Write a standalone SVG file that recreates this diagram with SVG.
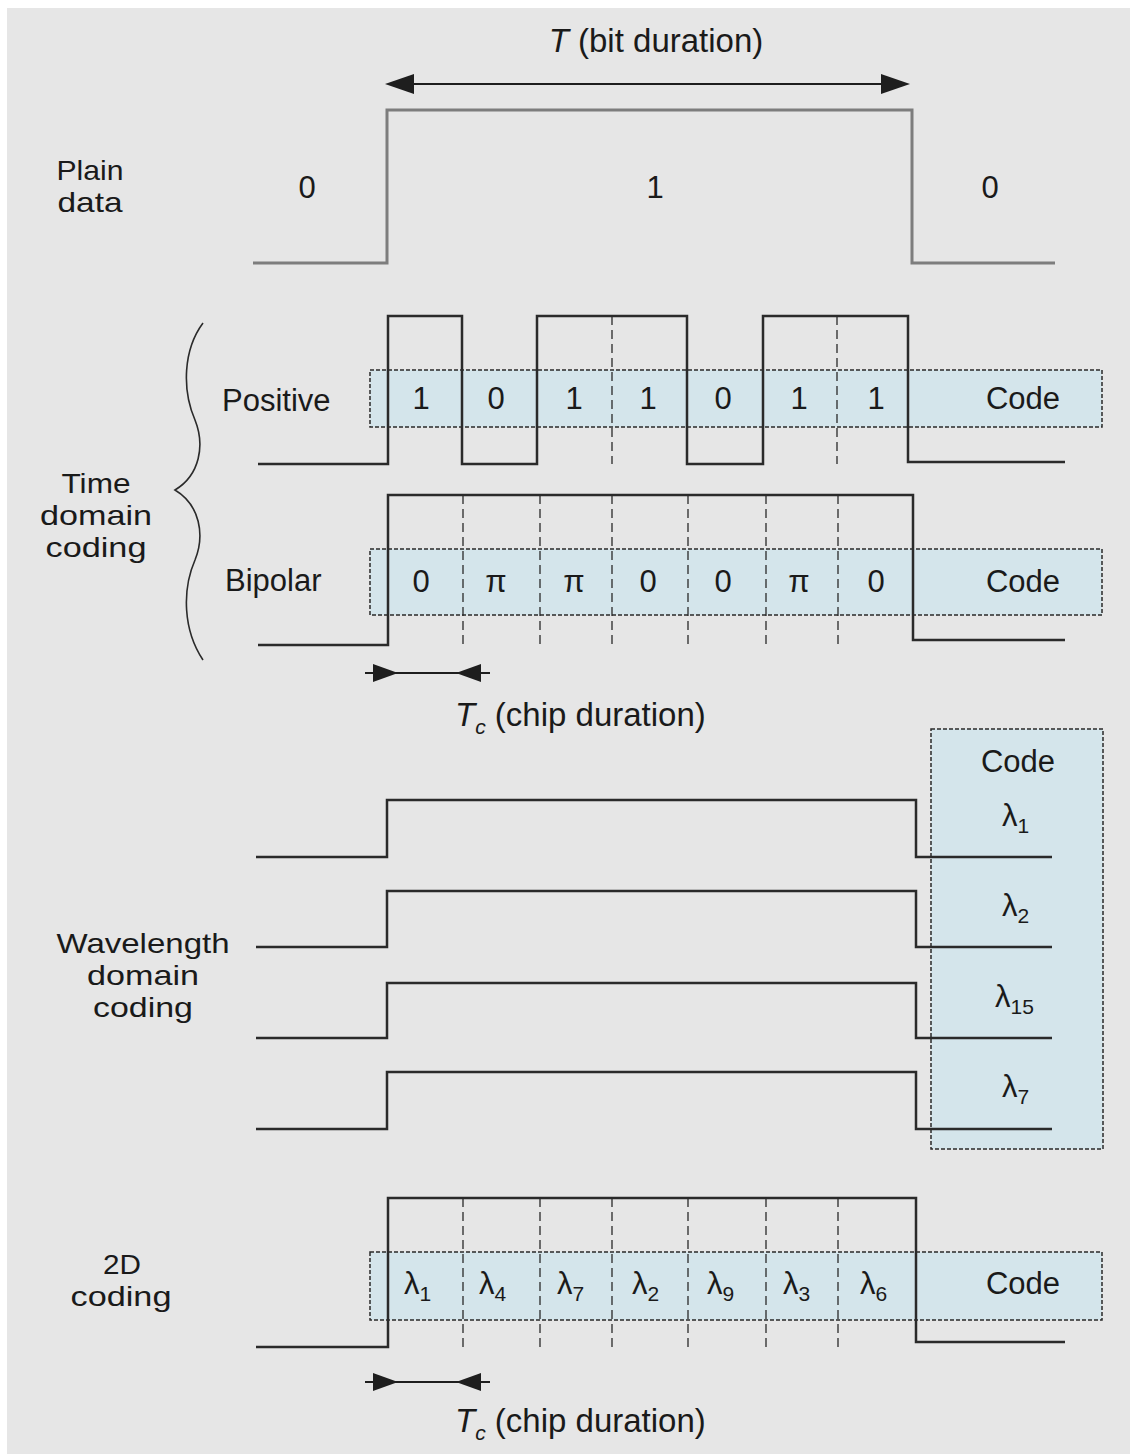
<svg xmlns="http://www.w3.org/2000/svg" width="1130" height="1454" viewBox="0 0 1130 1454">
<style>
  text { font-family: "Liberation Sans", Arial, sans-serif; font-size: 31px; fill: #1a1a1a; }
  .mid { text-anchor: middle; }
  .lbl { font-size: 28px; }
  .big { font-size: 33px; }
  .sub { font-size: 21px; }
  .wave { fill: none; stroke: #2a2a2a; stroke-width: 2.5; }
  .plain { fill: none; stroke: #7d7d7d; stroke-width: 3; }
  .chip { stroke: #2a2a2a; stroke-width: 1.3; stroke-dasharray: 9 5; }
  .codebox { fill: #d4e5eb; stroke: #2a2a2a; stroke-width: 1.5; stroke-dasharray: 4 2; }
  .dim { stroke: #1e1e1e; stroke-width: 2; }
  .head { fill: #1e1e1e; }
</style>
<rect x="0" y="0" width="1130" height="1454" fill="#ffffff"/>
<rect x="7" y="8" width="1123" height="1446" fill="#e6e6e6"/>

<!-- code boxes (drawn beneath waveforms) -->
<g id="positive-codebox"><rect class="codebox" x="370" y="370" width="732" height="57"/></g>
<g id="bipolar-codebox"><rect class="codebox" x="370" y="549" width="732" height="66"/></g>
<g id="wavelength-codebox"><rect class="codebox" x="931" y="729" width="172" height="420"/></g>
<g id="twod-codebox"><rect class="codebox" x="370" y="1252" width="732" height="68"/></g>

<!-- plain data -->
<g id="plain-data">
  <text class="mid lbl" x="90" y="180" textLength="67" lengthAdjust="spacingAndGlyphs">Plain</text>
  <text class="mid lbl" x="90" y="212" textLength="65" lengthAdjust="spacingAndGlyphs">data</text>
  <polyline class="plain" points="253,263 387,263 387,110 912,110 912,263 1055,263"/>
  <text class="mid" x="307" y="198">0</text>
  <text class="mid" x="655" y="198">1</text>
  <text class="mid" x="990" y="198">0</text>
  <text class="mid big" x="656" y="52"><tspan font-style="italic">T</tspan> (bit duration)</text>
</g>

<!-- time domain coding label and brace -->
<g id="time-domain">
  <path d="M203,323 C183,350 182,390 195,420 C205,445 200,475 175,490 C200,505 205,535 195,560 C182,590 183,630 203,660" fill="none" stroke="#2a2a2a" stroke-width="1.6"/>
  <text class="mid lbl" x="96" y="493" textLength="69" lengthAdjust="spacingAndGlyphs">Time</text>
  <text class="mid lbl" x="96" y="525" textLength="112" lengthAdjust="spacingAndGlyphs">domain</text>
  <text class="mid lbl" x="96" y="557" textLength="101" lengthAdjust="spacingAndGlyphs">coding</text>
</g>

<!-- positive -->
<g id="positive">
  <text x="222" y="411">Positive</text>
  <line class="chip" x1="612" y1="316" x2="612" y2="464"/>
  <line class="chip" x1="837" y1="316" x2="837" y2="464"/>
  <polyline class="wave" points="258,464 388,464 388,316 462,316 462,464 537,464 537,316 687,316 687,464 763,464 763,316 908,316 908,462 1065,462"/>
  <text class="mid" x="421" y="409">1</text>
  <text class="mid" x="496" y="409">0</text>
  <text class="mid" x="574" y="409">1</text>
  <text class="mid" x="648" y="409">1</text>
  <text class="mid" x="723" y="409">0</text>
  <text class="mid" x="799" y="409">1</text>
  <text class="mid" x="876" y="409">1</text>
  <text class="mid" x="1023" y="409">Code</text>
</g>

<!-- bipolar -->
<g id="bipolar">
  <text x="225" y="591">Bipolar</text>
  <line class="chip" x1="463" y1="495" x2="463" y2="647"/>
  <line class="chip" x1="540" y1="495" x2="540" y2="647"/>
  <line class="chip" x1="612" y1="495" x2="612" y2="647"/>
  <line class="chip" x1="688" y1="495" x2="688" y2="647"/>
  <line class="chip" x1="766" y1="495" x2="766" y2="647"/>
  <line class="chip" x1="838" y1="495" x2="838" y2="647"/>
  <polyline class="wave" points="258,645 388,645 388,495 913,495 913,640 1065,640"/>
  <text class="mid" x="421" y="592">0</text>
  <text class="mid" x="496" y="592">π</text>
  <text class="mid" x="574" y="592">π</text>
  <text class="mid" x="648" y="592">0</text>
  <text class="mid" x="723" y="592">0</text>
  <text class="mid" x="799" y="592">π</text>
  <text class="mid" x="876" y="592">0</text>
  <text class="mid" x="1023" y="592">Code</text>
  <text class="big" x="455" y="726"><tspan font-style="italic">T</tspan><tspan class="sub" font-style="italic" dy="8">c</tspan><tspan dy="-8"> (chip duration)</tspan></text>
</g>

<!-- wavelength domain coding -->
<g id="wavelength">
  <text class="mid lbl" x="143" y="953" textLength="173" lengthAdjust="spacingAndGlyphs">Wavelength</text>
  <text class="mid lbl" x="143" y="985" textLength="112" lengthAdjust="spacingAndGlyphs">domain</text>
  <text class="mid lbl" x="143" y="1017" textLength="100" lengthAdjust="spacingAndGlyphs">coding</text>
  <polyline class="wave" points="256,857 387,857 387,800 916,800 916,857 1052,857"/>
  <polyline class="wave" points="256,947 387,947 387,891 916,891 916,947 1052,947"/>
  <polyline class="wave" points="256,1038 387,1038 387,983 916,983 916,1038 1052,1038"/>
  <polyline class="wave" points="256,1129 387,1129 387,1072 916,1072 916,1129 1052,1129"/>
  <text class="mid" x="1018" y="772">Code</text>
  <text x="1002" y="826">λ<tspan class="sub" dy="7">1</tspan></text>
  <text x="1002" y="916">λ<tspan class="sub" dy="7">2</tspan></text>
  <text x="995" y="1007">λ<tspan class="sub" dy="7">15</tspan></text>
  <text x="1002" y="1097">λ<tspan class="sub" dy="7">7</tspan></text>
</g>

<!-- 2D coding -->
<g id="twod">
  <text class="mid lbl" x="122" y="1274" textLength="38" lengthAdjust="spacingAndGlyphs">2D</text>
  <text class="mid lbl" x="121" y="1306" textLength="101" lengthAdjust="spacingAndGlyphs">coding</text>
  <line class="chip" x1="463" y1="1198" x2="463" y2="1347"/>
  <line class="chip" x1="540" y1="1198" x2="540" y2="1347"/>
  <line class="chip" x1="612" y1="1198" x2="612" y2="1347"/>
  <line class="chip" x1="688" y1="1198" x2="688" y2="1347"/>
  <line class="chip" x1="766" y1="1198" x2="766" y2="1347"/>
  <line class="chip" x1="838" y1="1198" x2="838" y2="1347"/>
  <polyline class="wave" points="256,1347 388,1347 388,1198 916,1198 916,1342 1065,1342"/>
  <text x="404" y="1294">λ<tspan class="sub" dy="7">1</tspan></text>
  <text x="479" y="1294">λ<tspan class="sub" dy="7">4</tspan></text>
  <text x="557" y="1294">λ<tspan class="sub" dy="7">7</tspan></text>
  <text x="632" y="1294">λ<tspan class="sub" dy="7">2</tspan></text>
  <text x="707" y="1294">λ<tspan class="sub" dy="7">9</tspan></text>
  <text x="783" y="1294">λ<tspan class="sub" dy="7">3</tspan></text>
  <text x="860" y="1294">λ<tspan class="sub" dy="7">6</tspan></text>
  <text class="mid" x="1023" y="1294">Code</text>
  <text class="big" x="455" y="1432"><tspan font-style="italic">T</tspan><tspan class="sub" font-style="italic" dy="8">c</tspan><tspan dy="-8"> (chip duration)</tspan></text>
</g>

<!-- dimension arrows -->
<g id="connectors">
  <line class="dim" x1="400" y1="84" x2="895" y2="84"/>
  <polygon class="head" points="385,84 414,74 414,94"/>
  <polygon class="head" points="910,84 881,74 881,94"/>
  <line class="dim" x1="365" y1="673" x2="490" y2="673"/>
  <polygon class="head" points="398,673 373,664 373,682"/>
  <polygon class="head" points="456,673 481,664 481,682"/>
  <line class="dim" x1="365" y1="1382" x2="490" y2="1382"/>
  <polygon class="head" points="398,1382 373,1373 373,1391"/>
  <polygon class="head" points="456,1382 481,1373 481,1391"/>
</g>
</svg>
